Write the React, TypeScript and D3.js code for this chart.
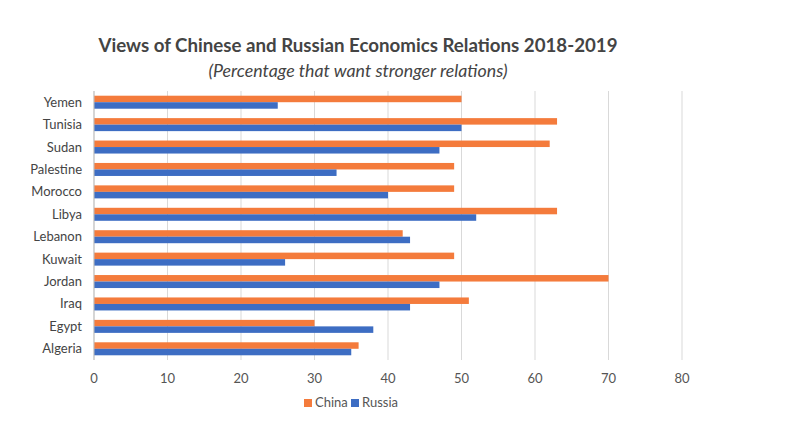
import * as d3 from 'd3';
import * as React from 'react';

const countries = ['Yemen', 'Tunisia', 'Sudan', 'Palestine', 'Morocco', 'Libya', 'Lebanon', 'Kuwait', 'Jordan', 'Iraq', 'Egypt', 'Algeria'];
const china = [50, 63, 62, 49, 49, 63, 42, 49, 70, 51, 30, 36];
const russia = [25, 50, 47, 33, 40, 52, 43, 26, 47, 43, 38, 35];
const ticks = [0, 10, 20, 30, 40, 50, 60, 70, 80];

const orange = '#F47B3C';
const blue = '#3D6DC3';
const font = 'Lato, "Open Sans", sans-serif';

export default function App() {
    const x = d3.scaleLinear().domain([0, 80]).range([94, 682]);
    const y = d3.scaleBand().domain(countries).range([91, 360]);
    const bh = 6.5;

    return (
        <svg width={800} height={437} style={{ position: 'absolute', left: 0, top: 0, background: '#fff' }} fontFamily={font}>
            <text x={358} y={52} textAnchor="middle" fontSize={18.7} fontWeight="bold" fill="#444">
                Views of Chinese and Russian Economics Relations 2018-2019
            </text>
            <text x={358} y={77} textAnchor="middle" fontSize={17.8} fontStyle="italic" fill="#444">
                (Percentage that want stronger relations)
            </text>
            {ticks.map(t => (
                <g key={t}>
                    <line x1={x(t)} x2={x(t)} y1={91} y2={360} stroke="#d9d9d9" strokeWidth={1} />
                    <text x={x(t)} y={383} textAnchor="middle" fontSize={13} fill="#555">{t}</text>
                </g>
            ))}
            {countries.map((c, i) => {
                const cy = (y(c) as number) + y.bandwidth() / 2;
                return (
                    <g key={c}>
                        <rect x={x(0)} y={cy - bh} width={x(china[i]) - x(0)} height={bh} fill={orange} />
                        <rect x={x(0)} y={cy} width={x(russia[i]) - x(0)} height={bh} fill={blue} />
                        <text x={82} y={cy + 4.5} textAnchor="end" fontSize={13} fill="#444">{c}</text>
                    </g>
                );
            })}
            <line x1={x(0)} x2={x(0)} y1={91} y2={360} stroke="#bfbfbf" />
            <rect x={304} y={399} width={8} height={8} fill={orange} />
            <text x={315} y={407} fontSize={13} fill="#555">China</text>
            <rect x={351} y={399} width={8} height={8} fill={blue} />
            <text x={362} y={407} fontSize={13} fill="#555">Russia</text>
        </svg>
    );
}
